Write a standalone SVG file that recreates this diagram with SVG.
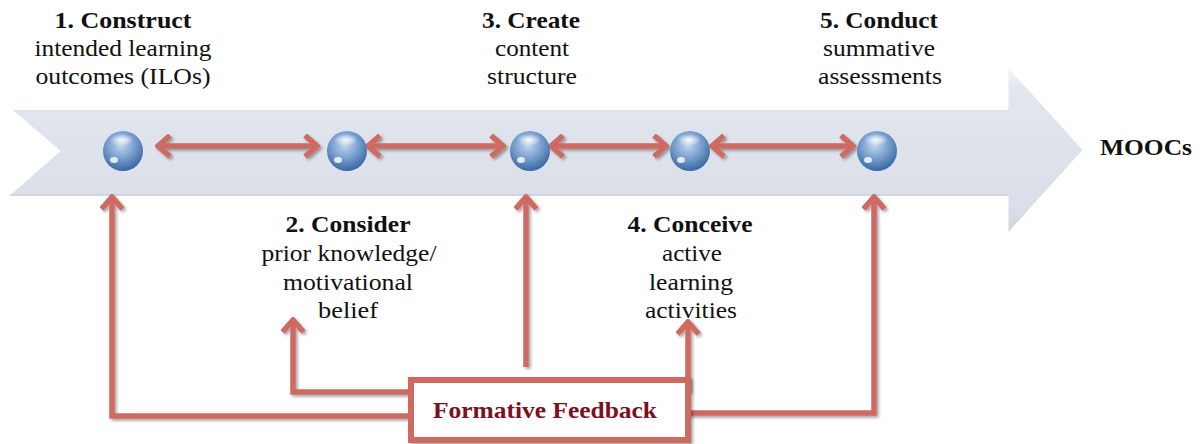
<svg xmlns="http://www.w3.org/2000/svg" width="1200" height="444" viewBox="0 0 1200 444">
  <defs>
    <style>
      text { font-family: "Liberation Serif", "DejaVu Serif", serif; }
      .lbl { font-size: 23px; fill: #111; text-anchor: middle; }
      .ttl { font-weight: bold; }
      .conn { fill: none; stroke: #cf6a62; stroke-width: 5.5; stroke-linejoin: miter; }
      .fb { font-size: 23px; font-weight: bold; fill: #7a1020; text-anchor: middle; }
    </style>
    <linearGradient id="bandFill" x1="0" y1="0" x2="0" y2="1">
      <stop offset="0" stop-color="#f4f6f9"/>
      <stop offset="0.12" stop-color="#e2e6ee"/>
      <stop offset="0.85" stop-color="#dadee8"/>
      <stop offset="1" stop-color="#cfd3dd"/>
    </linearGradient>
    <radialGradient id="ball" cx="0.45" cy="0.35" r="0.7">
      <stop offset="0" stop-color="#c4d8ef"/>
      <stop offset="0.45" stop-color="#7ea3d1"/>
      <stop offset="1" stop-color="#2f5f9a"/>
    </radialGradient>
    <radialGradient id="shine" cx="0.5" cy="0.5" r="0.5">
      <stop offset="0" stop-color="#ffffff" stop-opacity="0.95"/>
      <stop offset="1" stop-color="#ffffff" stop-opacity="0"/>
    </radialGradient>
    <filter id="shadow" x="-10%" y="-10%" width="130%" height="130%">
      <feGaussianBlur in="SourceAlpha" stdDeviation="1.5"/>
      <feOffset dx="1.5" dy="2" result="b"/>
      <feComponentTransfer><feFuncA type="linear" slope="0.35"/></feComponentTransfer>
      <feMerge><feMergeNode/><feMergeNode in="SourceGraphic"/></feMerge>
    </filter>
    <marker id="head" viewBox="0 0 24 24" refX="21" refY="12" markerWidth="24" markerHeight="24" markerUnits="userSpaceOnUse" orient="auto-start-reverse">
      <path d="M9,1.5 L21,12 L9,22.5" fill="none" stroke="#cf6a62" stroke-width="5.5" stroke-linejoin="miter"/>
    </marker>
    <g id="sphere">
      <circle r="20" fill="url(#ball)"/>
      <ellipse cx="-1" cy="-11" rx="12" ry="6" fill="url(#shine)"/>
      <ellipse cx="-9" cy="9" rx="4" ry="3" fill="#ffffff" opacity="0.8"/>
    </g>
  </defs>

  <!-- timeline band -->
  <g id="timeline">
    <path d="M10,108 L1008,108 L1008,67 L1083,150 L1008,233 L1008,195 L10,195 L60,151 Z" fill="url(#bandFill)" stroke="#ffffff" stroke-width="1"/>
    <path d="M12,109 L1008,109" stroke="#ffffff" stroke-width="2"/>
    <path d="M10,195 L1008,195" stroke="#c7cbd4" stroke-width="1.5"/>
  </g>

  <!-- connectors -->
  <g id="connectors" filter="url(#shadow)">
    <line class="conn" x1="158" y1="146" x2="317" y2="146" marker-start="url(#head)" marker-end="url(#head)"/>
    <line class="conn" x1="368" y1="146" x2="503" y2="146" marker-start="url(#head)" marker-end="url(#head)"/>
    <line class="conn" x1="551" y1="146" x2="666" y2="146" marker-start="url(#head)" marker-end="url(#head)"/>
    <line class="conn" x1="712" y1="146" x2="853" y2="146" marker-start="url(#head)" marker-end="url(#head)"/>
    <polyline class="conn" points="411,416 112,416 112,197" marker-end="url(#head)"/>
    <polyline class="conn" points="411,392 293,392 293,320" marker-end="url(#head)"/>
    <polyline class="conn" points="526,367 526,197" marker-end="url(#head)"/>
    <polyline class="conn" points="688,392 688,322" marker-end="url(#head)"/>
    <polyline class="conn" points="688,413 874,413 874,197" marker-end="url(#head)"/>
  </g>

  <!-- stage markers -->
  <g id="stage1"><use href="#sphere" x="123" y="151"/>
    <text class="lbl ttl" x="123" y="28" textLength="137" lengthAdjust="spacingAndGlyphs">1. Construct</text>
    <text class="lbl" x="123" y="56" textLength="177" lengthAdjust="spacingAndGlyphs">intended learning</text>
    <text class="lbl" x="123" y="84" textLength="175" lengthAdjust="spacingAndGlyphs">outcomes (ILOs)</text>
  </g>
  <g id="stage2"><use href="#sphere" x="347" y="151"/>
    <text class="lbl ttl" x="348" y="232" textLength="125" lengthAdjust="spacingAndGlyphs">2. Consider</text>
    <text class="lbl" x="349" y="261" textLength="175" lengthAdjust="spacingAndGlyphs">prior knowledge/</text>
    <text class="lbl" x="348" y="290" textLength="130" lengthAdjust="spacingAndGlyphs">motivational</text>
    <text class="lbl" x="348" y="318" textLength="60" lengthAdjust="spacingAndGlyphs">belief</text>
  </g>
  <g id="stage3"><use href="#sphere" x="530" y="151"/>
    <text class="lbl ttl" x="531" y="28" textLength="98" lengthAdjust="spacingAndGlyphs">3. Create</text>
    <text class="lbl" x="532" y="56" textLength="74" lengthAdjust="spacingAndGlyphs">content</text>
    <text class="lbl" x="532" y="84" textLength="90" lengthAdjust="spacingAndGlyphs">structure</text>
  </g>
  <g id="stage4"><use href="#sphere" x="690" y="151"/>
    <text class="lbl ttl" x="690" y="232" textLength="125" lengthAdjust="spacingAndGlyphs">4. Conceive</text>
    <text class="lbl" x="692" y="261" textLength="60" lengthAdjust="spacingAndGlyphs">active</text>
    <text class="lbl" x="691" y="290" textLength="84" lengthAdjust="spacingAndGlyphs">learning</text>
    <text class="lbl" x="691" y="318" textLength="92" lengthAdjust="spacingAndGlyphs">activities</text>
  </g>
  <g id="stage5"><use href="#sphere" x="877" y="151"/>
    <text class="lbl ttl" x="879" y="28" textLength="118" lengthAdjust="spacingAndGlyphs">5. Conduct</text>
    <text class="lbl" x="879" y="56" textLength="112" lengthAdjust="spacingAndGlyphs">summative</text>
    <text class="lbl" x="880" y="84" textLength="124" lengthAdjust="spacingAndGlyphs">assessments</text>
  </g>
  <g id="moocs">
    <text class="lbl ttl" x="1146" y="155" textLength="92" lengthAdjust="spacingAndGlyphs">MOOCs</text>
  </g>

  <!-- feedback box -->
  <g id="feedback">
    <rect x="411" y="380" width="277" height="60" fill="#ffffff" stroke="#cf6a62" stroke-width="6" filter="url(#shadow)"/>
    <text class="fb" x="545" y="418" textLength="224" lengthAdjust="spacingAndGlyphs">Formative Feedback</text>
  </g>
</svg>
